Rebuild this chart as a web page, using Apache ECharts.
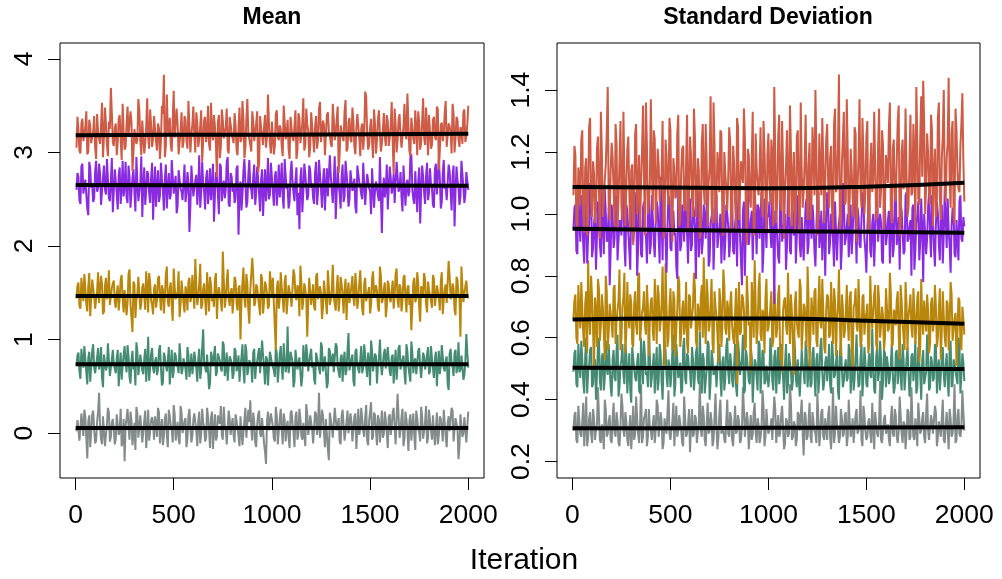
<!DOCTYPE html>
<html><head><meta charset="utf-8">
<script src="https://cdn.jsdelivr.net/npm/echarts@6/dist/echarts.min.js"></script>
<style>html,body{margin:0;padding:0;background:#fff}#c{width:1002px;height:579px}</style>
</head><body><div id="c"></div>
<script>
const iterTicks = [0, 500, 1000, 1500, 2000];
const meanTicks = [0, 1, 2, 3, 4];
const sdTicks = [0.2, 0.4, 0.6, 0.8, 1.0, 1.2, 1.4];
const thin = 10; // each array holds every 10th draw; "B" arrays hold the draws 5 iterations earlier
const panelTitles = ['Mean', 'Standard Deviation'];
const xLabel = 'Iteration';

const meanRed = [
3.38,3.02,3.31,3.12,3.27,2.98,3.35,3.10,3.22,3.05,3.41,3.15,3.29,2.95,3.48,3.08,3.33,3.69,3.11,3.26,
2.97,3.36,3.14,3.52,3.03,3.30,3.18,3.44,2.80,3.25,3.09,3.57,3.13,3.34,2.99,3.28,3.16,3.46,3.06,3.39,
3.12,3.31,2.93,3.50,3.83,3.07,3.24,3.37,3.01,3.66,3.17,3.29,2.96,3.43,3.11,3.35,3.04,3.27,3.19,3.49,
3.00,3.32,3.14,3.45,2.92,3.38,3.20,3.09,3.53,3.13,3.28,2.74,3.40,3.06,3.34,3.17,3.47,2.99,3.30,3.15,
3.42,3.03,3.26,3.11,3.55,2.94,3.36,3.21,3.08,3.44,3.12,3.31,2.79,3.39,3.18,3.27,3.05,3.62,3.10,3.33,
2.98,3.41,3.16,3.29,3.07,3.50,3.14,3.35,2.93,3.26,3.12,3.45,3.02,3.37,3.19,3.58,3.08,3.30,2.95,3.43,
3.15,3.28,3.04,3.47,3.11,3.34,2.97,3.40,3.22,3.09,3.52,3.13,3.36,2.78,3.29,3.17,3.44,3.01,3.32,3.14,
3.48,3.06,3.25,3.39,2.96,3.31,3.18,3.60,3.03,3.27,3.12,3.46,2.99,3.35,3.20,3.10,3.42,3.07,3.33,3.16,
3.54,2.77,3.30,3.13,3.41,3.05,3.28,3.19,3.63,3.02,3.37,3.15,3.45,2.97,3.32,3.11,3.58,3.08,3.26,3.40,
3.04,3.35,3.17,3.49,2.81,3.29,3.12,3.43,3.06,3.31,3.21,3.52,3.00,3.38,3.14,3.27,3.09,3.46,3.18,3.50];
const meanRedB = [
3.05,3.24,2.99,3.36,3.13,3.44,3.01,3.28,3.17,3.39,2.93,3.21,3.09,3.53,3.18,3.30,2.96,3.25,3.42,3.07,
3.31,3.11,3.40,2.92,3.22,3.06,3.49,3.16,3.33,3.00,3.27,3.14,3.45,2.97,3.35,3.10,3.58,3.04,3.29,3.15,
3.37,3.02,3.26,3.12,3.41,2.95,3.62,3.20,3.08,3.34,3.16,3.47,2.98,3.23,3.05,3.39,3.13,3.55,3.00,3.30,
3.18,3.43,3.06,3.28,2.90,3.35,3.11,3.50,3.02,3.24,3.40,3.09,3.32,2.94,3.46,3.15,3.27,3.03,3.38,3.21,
3.10,3.29,2.97,3.48,3.14,3.36,3.05,3.57,3.19,3.01,3.33,3.12,3.44,2.88,3.26,3.08,3.40,3.17,3.31,2.99,
3.34,3.07,3.45,3.13,3.25,2.96,3.51,3.20,3.04,3.38,3.16,3.29,2.93,3.42,3.10,3.32,3.02,3.47,3.23,3.06,
3.28,3.00,3.39,3.14,3.54,3.09,3.30,2.95,3.43,3.18,3.06,3.35,3.21,3.49,2.99,3.27,3.12,3.56,3.04,3.37,
3.11,3.33,2.98,3.41,3.15,3.26,3.03,3.65,3.20,3.08,3.36,2.94,3.30,3.13,3.45,3.01,3.24,3.17,3.40,3.07,
3.29,3.12,3.47,3.00,3.35,3.18,3.05,3.52,3.14,3.31,2.96,3.39,3.09,3.26,3.44,3.03,3.33,3.16,3.48,2.97,
3.22,3.08,3.38,3.13,3.46,3.02,3.32,3.19,3.55,3.05,3.28,2.99,3.41,3.15,3.35,3.06,3.24,3.43,3.11,3.30];
const meanPurple = [
2.78,2.49,2.85,2.56,2.71,2.40,2.90,2.62,2.47,2.80,2.58,2.88,2.44,2.74,2.60,2.93,2.51,2.69,2.36,2.82,
2.55,2.76,2.45,2.91,2.63,2.52,2.86,2.41,2.73,2.57,2.95,2.48,2.67,2.31,2.84,2.59,2.77,2.46,2.89,2.61,
2.42,2.81,2.54,2.72,2.38,2.87,2.64,2.50,2.92,2.56,2.75,2.43,2.83,2.58,2.68,2.47,2.79,2.15,2.86,2.53,
2.70,2.44,2.97,2.57,2.66,2.39,2.81,2.60,2.49,2.88,2.55,2.74,2.34,2.85,2.62,2.51,2.90,2.45,2.78,2.58,
2.46,2.83,2.12,2.69,2.54,2.93,2.41,2.76,2.63,2.50,2.87,2.57,2.71,2.37,2.82,2.59,2.48,2.94,2.55,2.73,
2.43,2.80,2.61,2.52,2.89,2.40,2.75,2.64,2.47,2.91,2.56,2.70,2.33,2.18,2.84,2.58,2.77,2.49,2.86,2.62,
2.51,2.79,2.44,2.92,2.60,2.68,2.38,2.83,2.55,2.74,2.46,2.96,2.57,2.65,2.40,2.87,2.53,2.78,2.42,2.81,
2.59,2.72,2.35,2.88,2.63,2.50,2.90,2.45,2.76,2.58,2.83,2.41,2.69,2.54,2.95,2.14,2.73,2.61,2.39,2.85,
2.56,2.77,2.47,2.91,2.62,2.52,2.86,2.43,2.71,2.58,2.98,2.50,2.80,2.36,2.84,2.60,2.74,2.45,2.89,2.57,
2.66,2.44,2.82,2.55,2.93,2.40,2.78,2.61,2.49,2.87,2.58,2.75,2.21,2.85,2.63,2.52,2.90,2.46,2.79,2.60];
const meanPurpleB = [
2.60,2.74,2.45,2.88,2.57,2.69,2.33,2.83,2.66,2.51,2.91,2.62,2.77,2.42,2.86,2.55,2.72,2.48,2.94,2.59,
2.70,2.39,2.84,2.61,2.53,2.90,2.46,2.75,2.58,2.82,2.37,2.67,2.50,2.96,2.64,2.44,2.80,2.56,2.73,2.28,
2.85,2.63,2.47,2.89,2.59,2.71,2.40,2.78,2.54,2.92,2.66,2.35,2.81,2.61,2.49,2.87,2.57,2.69,2.43,2.84,
2.52,2.76,2.62,2.41,2.90,2.58,2.73,2.45,2.83,2.65,2.26,2.79,2.56,2.88,2.48,2.70,2.60,2.95,2.42,2.74,
2.64,2.51,2.86,2.57,2.38,2.80,2.68,2.47,2.92,2.60,2.74,2.44,2.85,2.55,2.71,2.32,2.82,2.63,2.50,2.89,
2.58,2.75,2.43,2.87,2.66,2.52,2.93,2.61,2.40,2.78,2.69,2.48,2.84,2.57,2.72,2.36,2.88,2.62,2.54,2.81,
2.67,2.45,2.90,2.59,2.76,2.41,2.83,2.64,2.53,2.97,2.60,2.70,2.29,2.85,2.56,2.74,2.47,2.91,2.63,2.50,
2.79,2.57,2.42,2.86,2.68,2.55,2.89,2.44,2.77,2.62,2.34,2.82,2.59,2.71,2.48,2.93,2.61,2.52,2.87,2.40,
2.73,2.64,2.46,2.90,2.58,2.79,2.37,2.84,2.66,2.53,2.95,2.60,2.45,2.81,2.69,2.24,2.86,2.57,2.75,2.49,
2.83,2.62,2.41,2.88,2.56,2.72,2.47,2.92,2.64,2.51,2.80,2.38,2.86,2.59,2.70,2.44,2.91,2.63,2.55,2.78];
const meanGold = [
1.58,1.36,1.66,1.41,1.55,1.30,1.71,1.45,1.62,1.33,1.52,1.39,1.68,1.27,1.57,1.43,1.74,1.35,1.60,1.40,
1.49,1.31,1.64,1.44,1.53,1.26,1.70,1.38,1.08,1.59,1.42,1.67,1.32,1.56,1.47,1.73,1.29,1.61,1.37,1.54,
1.34,1.65,1.46,1.58,1.28,1.69,1.40,1.55,1.35,1.76,1.43,1.51,1.24,1.63,1.39,1.57,1.31,1.66,1.45,1.52,
1.86,1.37,1.60,1.33,1.54,1.42,1.72,1.30,1.58,1.46,1.64,1.22,1.56,1.41,1.94,1.34,1.62,1.44,1.50,1.28,
1.67,1.39,1.55,1.00,1.61,1.43,1.70,1.32,1.53,1.87,1.36,1.59,1.45,1.26,1.65,1.40,1.57,1.33,1.73,1.48,
1.38,0.89,1.63,1.44,1.56,1.29,1.69,1.41,1.52,1.35,1.75,1.46,1.58,1.25,1.62,1.42,1.54,1.03,1.66,1.37,
1.59,1.31,1.71,1.45,1.50,1.34,1.64,1.27,1.57,1.43,1.80,1.38,1.55,1.30,1.67,1.47,1.53,1.21,1.61,1.40,
1.68,1.36,1.56,1.44,1.74,1.32,1.60,1.41,1.51,1.28,1.65,1.46,1.58,1.35,1.78,1.39,1.54,1.24,1.63,1.43,
1.52,1.33,1.70,1.42,1.59,1.30,1.66,1.45,1.55,1.37,1.10,1.61,1.40,1.72,1.34,1.57,1.47,1.64,1.29,1.53,
1.41,1.69,1.36,1.58,1.45,1.62,1.27,1.54,1.39,1.84,1.43,1.60,1.32,1.67,1.48,1.03,1.56,1.38,1.63,1.44];
const meanGoldB = [
1.44,1.61,1.33,1.52,1.70,1.38,1.57,1.25,1.64,1.46,1.35,1.72,1.41,1.59,1.30,1.66,1.48,1.37,1.55,1.63,
1.34,1.58,1.45,1.69,1.29,1.54,1.40,1.75,1.36,1.62,1.23,1.50,1.67,1.39,1.60,1.32,1.56,1.71,1.42,1.27,
1.59,1.43,1.68,1.31,1.53,1.47,1.78,1.35,1.61,1.20,1.56,1.44,1.73,1.38,1.65,1.29,1.51,1.62,1.40,1.69,
1.33,1.57,1.45,1.81,1.37,1.60,1.26,1.53,1.67,1.41,1.35,1.71,1.48,1.58,1.30,1.64,1.43,1.75,1.36,1.55,
1.46,1.63,1.31,1.58,1.42,1.77,1.34,1.60,1.17,1.52,1.68,1.39,1.56,1.45,1.70,1.28,1.62,1.49,1.36,1.59,
1.66,1.40,1.54,1.33,1.72,1.44,1.61,1.27,1.58,1.47,1.36,1.69,1.42,1.55,1.79,1.32,1.60,1.45,1.38,1.64,
1.48,1.35,1.67,1.43,1.57,1.22,1.63,1.40,1.74,1.37,1.54,1.46,1.31,1.69,1.44,1.59,1.28,1.65,1.50,1.39,
1.57,1.44,1.71,1.33,1.60,1.48,1.26,1.66,1.41,1.56,1.37,1.73,1.45,1.52,1.30,1.68,1.43,1.61,1.35,1.58,
1.40,1.63,1.47,1.76,1.34,1.55,1.42,1.69,1.29,1.58,1.46,1.35,1.66,1.44,1.60,1.19,1.54,1.71,1.38,1.62,
1.52,1.34,1.65,1.46,1.56,1.31,1.72,1.43,1.59,1.37,1.68,1.47,1.55,1.26,1.63,1.45,1.78,1.40,1.57,1.49];
const meanGreen = [
0.83,0.66,0.90,0.70,0.79,0.52,0.87,0.73,0.95,0.64,0.81,0.68,0.92,0.49,0.85,0.71,0.78,0.63,0.89,0.69,
0.80,0.50,0.86,0.72,0.93,0.65,0.82,0.53,0.88,0.74,0.97,0.62,0.84,0.67,0.79,0.55,1.03,0.70,0.91,0.64,
0.81,0.68,0.94,0.51,0.86,0.73,0.77,0.52,0.89,0.66,0.83,0.71,0.96,0.63,0.80,0.69,0.92,0.60,0.85,0.72,
0.78,0.55,0.90,0.67,1.11,0.70,0.84,0.47,0.87,0.74,0.93,0.65,0.81,0.69,0.98,0.61,0.86,0.73,0.79,0.58,
0.91,0.66,0.83,0.71,0.95,0.53,0.88,0.68,0.80,0.54,0.90,0.72,0.85,0.64,0.99,0.69,0.82,0.51,0.87,0.75,
0.67,0.92,0.54,0.84,0.70,0.96,0.65,1.14,0.73,0.86,0.49,0.89,0.68,0.81,0.50,0.94,0.71,0.83,0.64,0.90,
0.76,0.52,0.88,0.69,0.97,0.66,0.82,0.48,0.91,0.72,0.85,0.63,0.93,0.70,0.80,0.55,0.87,0.67,1.07,0.73,
0.84,0.50,0.90,0.68,0.79,0.64,0.95,0.71,0.86,0.51,0.88,0.66,0.82,0.73,1.00,0.62,0.85,0.69,0.92,0.65,
0.81,0.53,0.89,0.72,0.94,0.67,0.83,0.52,0.87,0.70,0.98,0.64,0.80,0.74,0.91,0.59,0.86,0.68,0.84,0.63,
0.93,0.69,0.79,0.50,0.88,0.72,0.96,0.66,0.82,0.46,0.90,0.71,0.85,0.64,0.97,0.68,0.81,0.62,1.06,0.70];
const meanGreenB = [
0.72,0.86,0.58,0.77,0.93,0.65,0.80,0.55,0.88,0.70,0.62,0.91,0.75,0.59,0.84,0.67,0.96,0.61,0.79,0.73,
0.64,0.89,0.71,0.57,0.83,0.76,0.94,0.60,0.78,0.68,0.51,0.87,0.72,0.82,0.63,0.90,0.74,0.56,0.85,0.69,
0.77,0.62,0.88,0.70,0.54,0.81,0.66,0.92,0.73,0.59,0.86,0.75,0.64,0.97,0.68,0.80,0.57,0.84,0.71,0.63,
0.87,0.69,0.79,0.58,0.92,0.74,0.65,0.83,0.53,0.89,0.72,0.61,0.85,0.77,0.66,0.94,0.70,0.56,0.82,0.75,
0.63,0.88,0.73,0.55,0.81,0.68,0.95,0.62,0.78,0.71,0.86,0.58,0.76,0.91,0.65,0.83,0.52,0.79,0.70,0.89,
0.74,0.60,0.85,0.69,0.93,0.57,0.80,0.72,0.64,0.87,0.76,0.55,0.90,0.67,0.82,0.61,0.78,0.95,0.66,0.84,
0.70,0.58,0.86,0.75,0.63,0.92,0.68,0.81,0.54,0.88,0.73,0.65,0.96,0.71,0.59,0.84,0.77,0.62,0.89,0.67,
0.79,0.56,0.87,0.72,0.64,0.93,0.70,0.83,0.60,0.76,0.99,0.66,0.85,0.53,0.80,0.74,0.62,0.90,0.69,0.78,
0.61,0.84,0.73,0.57,0.91,0.68,0.79,0.64,0.95,0.71,0.55,0.86,0.76,0.63,0.88,0.70,0.58,0.82,0.74,0.92,
0.66,0.80,0.59,0.87,0.72,0.63,0.94,0.69,0.78,0.52,0.85,0.75,0.61,0.89,0.71,0.65,0.83,0.57,0.77,0.86];
const meanGray = [
0.14,-0.08,0.21,-0.03,0.17,-0.27,0.19,0.01,0.24,-0.11,0.12,0.43,-0.06,0.18,-0.14,0.10,0.22,-0.04,0.15,-0.12,
0.20,-0.02,0.26,-0.09,-0.30,0.16,0.06,0.23,-0.13,0.11,0.28,-0.05,0.19,-0.10,0.13,-0.16,0.25,0.02,0.17,-0.07,
0.09,0.27,-0.11,0.15,-0.03,0.21,-0.15,0.18,0.04,0.30,-0.08,0.12,-0.12,0.22,0.00,0.16,-0.06,0.26,-0.10,0.14,
0.19,-0.14,0.23,-0.01,0.11,-0.09,0.27,0.03,0.17,-0.17,0.20,-0.04,0.13,0.29,-0.07,0.08,-0.12,0.24,-0.02,0.16,
-0.10,0.22,0.05,0.18,-0.13,0.14,-0.05,0.25,0.35,-0.08,0.12,-0.15,0.20,-0.01,0.16,-0.11,-0.33,0.23,0.02,0.19,
-0.06,0.28,-0.12,0.15,0.04,0.21,-0.09,0.13,-0.16,0.24,0.01,0.18,-0.07,0.26,-0.03,0.11,-0.14,0.20,0.06,0.17,
-0.11,0.23,-0.02,0.43,0.09,0.19,-0.15,0.14,-0.29,0.22,-0.05,0.27,0.03,0.16,-0.12,0.25,-0.08,0.12,0.00,0.21,
-0.09,0.18,-0.17,0.26,0.05,0.15,-0.04,0.30,-0.13,0.11,-0.07,0.22,0.02,0.19,-0.10,0.24,-0.01,0.14,-0.16,0.20,
0.07,0.27,-0.12,0.42,-0.05,0.17,-0.14,0.23,0.04,0.13,-0.08,0.21,-0.18,0.16,0.01,0.28,-0.06,0.12,-0.11,0.25,
0.03,0.19,-0.13,0.22,-0.02,0.15,-0.09,0.26,-0.15,0.18,0.00,0.24,-0.07,0.14,-0.28,0.20,-0.04,0.17,-0.10,0.23];
const meanGrayB = [
0.02,0.16,-0.10,0.09,0.25,-0.05,0.12,-0.15,0.20,0.04,-0.08,0.23,0.07,-0.12,0.18,-0.02,0.27,-0.09,0.11,0.05,
-0.06,0.19,0.03,-0.14,0.15,0.08,0.26,-0.07,0.13,-0.01,-0.18,0.21,0.06,0.17,-0.11,0.24,0.01,-0.08,0.14,0.10,
0.18,-0.04,0.22,0.05,-0.13,0.16,-0.02,0.25,0.08,-0.10,0.20,0.03,-0.06,0.29,0.00,0.13,-0.15,0.19,0.06,-0.03,
0.21,0.02,0.12,-0.11,0.26,0.07,-0.05,0.17,-0.16,0.23,0.04,-0.08,0.19,0.10,-0.02,0.28,0.05,-0.12,0.15,0.08,
-0.03,0.20,0.06,-0.14,0.16,0.01,0.27,-0.07,0.12,0.04,0.22,-0.10,0.09,0.24,-0.04,0.17,-0.20,0.13,0.03,0.21,
0.07,-0.09,0.18,0.02,0.26,-0.12,0.14,0.05,-0.04,0.21,0.10,-0.15,0.23,0.00,0.16,-0.07,0.12,0.31,-0.02,0.19,
0.04,-0.10,0.20,0.08,-0.05,0.25,0.01,0.15,-0.17,0.22,0.06,-0.03,0.28,0.03,-0.09,0.18,0.09,-0.06,0.24,0.00,
0.12,-0.11,0.21,0.05,-0.02,0.27,0.02,0.16,-0.08,0.13,0.33,-0.04,0.19,-0.13,0.14,0.07,-0.05,0.23,0.01,0.17,
-0.02,0.22,0.06,-0.10,0.18,0.03,0.26,-0.06,0.15,-0.19,0.20,0.08,-0.03,0.24,0.04,-0.09,0.17,0.02,0.29,-0.05,
0.13,-0.07,0.21,0.04,-0.12,0.18,0.06,0.25,-0.04,0.11,0.02,0.27,-0.09,0.16,0.05,-0.14,0.22,0.00,0.15,0.08];

const sdRed = [
1.22,0.97,1.15,1.03,1.27,0.94,1.18,1.06,1.31,0.99,1.13,1.01,1.25,0.92,1.20,1.05,1.16,1.41,0.98,1.23,
1.08,1.29,0.95,1.17,1.02,1.33,0.96,1.21,1.07,1.14,0.90,1.26,1.00,1.19,1.10,1.35,0.93,1.22,1.04,1.37,
1.01,1.24,0.97,1.16,1.09,1.30,0.95,1.19,1.03,1.27,0.91,1.14,1.06,1.32,0.98,1.21,1.02,1.17,0.94,1.25,
1.05,1.34,0.99,1.18,0.92,1.23,1.08,1.29,0.96,1.15,1.03,1.36,0.97,1.20,1.07,1.26,0.93,1.13,1.01,1.28,
0.95,1.22,1.04,1.31,0.98,1.17,1.10,1.24,0.90,1.19,1.02,1.33,0.96,1.15,1.06,1.28,0.99,1.21,0.94,1.26,
1.03,1.18,1.41,0.97,1.25,1.05,1.30,0.92,1.16,1.08,1.35,0.96,1.20,1.01,1.27,0.94,1.14,1.07,1.32,0.98,
1.23,1.04,1.19,1.40,0.93,1.26,1.06,1.17,0.97,1.29,1.02,1.22,0.95,1.34,1.09,1.45,0.99,1.24,1.03,1.37,
0.96,1.21,1.05,1.28,0.91,1.18,1.08,1.31,1.00,1.25,0.94,1.16,1.07,1.33,0.98,1.22,1.02,1.27,0.95,1.19,
1.10,1.36,0.97,1.24,1.04,1.30,0.93,1.20,1.08,1.34,0.99,1.17,1.06,1.29,0.95,1.23,1.03,1.38,1.43,1.00,
1.26,1.07,1.32,0.96,1.21,1.05,1.36,0.98,1.25,1.09,1.18,1.44,1.02,1.30,0.97,1.27,1.08,1.22,1.39,1.04];
const sdRedB = [
1.06,1.19,0.95,1.12,1.24,1.00,1.15,0.93,1.28,1.04,1.17,0.97,1.21,1.08,1.33,0.99,1.11,1.26,1.02,1.14,
1.18,0.96,1.23,1.05,1.30,0.98,1.13,1.09,1.25,0.94,1.16,1.03,1.29,1.07,0.95,1.20,1.12,1.36,1.00,1.10,
1.15,1.27,0.97,1.21,1.04,1.13,0.92,1.24,1.08,1.31,1.00,1.18,1.05,1.26,0.96,1.14,1.22,1.01,1.32,1.07,
1.19,0.99,1.25,1.06,1.14,0.94,1.29,1.03,1.17,1.10,1.38,0.97,1.22,1.04,1.15,1.27,0.98,1.20,1.08,1.12,
1.23,1.02,1.16,0.95,1.28,1.07,1.13,1.34,1.00,1.21,1.05,1.18,0.93,1.26,1.09,1.14,1.03,1.30,1.06,1.19,
1.11,1.24,0.96,1.19,1.04,1.32,1.01,1.15,1.08,1.27,0.99,1.21,1.12,0.94,1.25,1.05,1.36,1.02,1.17,1.09,
1.16,0.98,1.28,1.06,1.20,1.03,1.13,1.31,0.97,1.24,1.10,1.18,1.01,1.29,1.07,1.21,0.95,1.16,1.33,1.04,
1.20,1.05,1.14,0.99,1.26,1.09,1.37,1.02,1.19,1.07,1.30,0.96,1.23,1.11,1.16,1.00,1.34,1.08,1.22,1.03,
1.15,1.28,1.01,1.21,1.06,1.17,1.35,0.98,1.24,1.10,1.13,1.02,1.32,1.07,1.19,1.41,1.05,1.25,1.12,1.30,
1.09,1.20,1.03,1.27,1.13,0.99,1.31,1.06,1.18,1.40,1.04,1.23,1.11,1.26,1.01,1.34,1.14,1.07,1.29,1.17];
const sdPurple = [
1.02,0.88,1.07,0.91,0.99,0.84,1.05,0.93,1.10,0.86,0.97,0.82,1.04,0.90,1.08,0.87,1.00,0.92,0.77,1.03,
0.89,1.06,0.85,0.98,0.93,1.11,0.83,1.01,0.88,1.05,0.91,0.96,0.80,1.09,0.87,1.02,0.94,0.84,1.07,0.90,
0.99,0.86,1.04,0.92,1.12,0.85,0.97,0.81,1.06,0.89,1.00,0.93,0.83,1.08,0.88,1.03,0.91,0.98,0.84,1.05,
0.90,1.01,0.79,1.07,0.94,0.87,1.03,0.92,1.10,0.85,0.99,0.82,1.05,0.89,0.96,0.84,1.08,0.91,1.00,0.86,
1.04,0.88,0.97,0.83,1.09,0.93,1.01,0.80,1.06,0.90,0.98,0.85,1.11,0.87,1.02,0.92,0.81,1.05,0.89,0.99,
0.94,1.07,0.71,1.00,0.86,1.04,0.91,0.97,0.82,1.08,0.88,1.02,0.93,0.84,1.06,0.90,0.99,0.85,1.03,0.87,
1.09,0.92,0.98,0.83,1.05,0.89,1.01,0.94,0.80,1.07,0.87,1.00,0.91,1.04,0.85,0.97,0.82,1.10,0.90,0.96,
0.86,1.03,0.93,1.08,0.84,0.99,0.89,1.06,0.92,0.81,1.02,0.88,0.97,0.83,1.05,0.91,1.00,0.85,1.07,0.90,
0.98,0.84,1.04,0.89,1.09,0.93,0.82,1.01,0.87,1.06,0.91,0.96,0.80,1.03,0.88,0.99,0.85,1.05,0.78,1.00,
0.92,1.07,0.86,0.97,0.83,1.04,0.90,1.01,0.84,1.08,0.89,0.95,0.81,1.02,0.87,0.98,0.85,1.06,0.91,0.96];
const sdPurpleB = [
0.95,1.03,0.87,0.98,1.06,0.90,1.01,0.84,0.96,1.09,0.89,1.00,0.93,1.04,0.86,0.97,1.08,0.91,1.02,0.88,
0.99,0.92,1.05,0.85,0.97,1.10,0.90,1.03,0.94,0.82,1.01,0.95,1.07,0.89,0.98,0.86,1.04,0.93,1.00,0.87,
1.06,0.91,0.97,1.02,0.84,0.99,1.08,0.92,0.96,1.04,0.88,1.01,0.94,0.79,1.05,0.90,0.97,1.09,0.93,0.98,
0.88,1.03,0.95,1.00,0.86,1.07,0.91,0.99,1.04,0.83,0.97,1.02,0.92,1.06,0.89,1.00,0.94,0.85,1.03,0.96,
0.91,1.05,0.87,0.99,1.02,0.93,0.77,1.04,0.96,1.08,0.90,1.01,0.85,0.98,1.03,0.92,1.07,0.88,0.97,1.00,
1.04,0.89,0.96,1.01,0.92,0.84,1.06,0.95,1.00,0.90,1.03,0.87,0.98,1.09,0.93,1.02,0.86,0.99,0.94,1.05,
0.90,0.99,1.03,0.88,0.96,1.07,0.93,0.85,1.01,0.97,1.05,0.91,0.98,0.83,1.04,0.94,1.00,0.89,1.06,0.92,
1.00,0.94,0.87,1.05,0.96,1.02,0.90,0.98,1.07,0.88,0.95,1.03,0.86,1.00,0.93,1.08,0.91,0.97,0.84,1.02,
0.93,1.01,0.96,0.86,1.05,0.90,0.99,1.03,0.94,0.88,1.07,0.92,0.98,1.02,0.82,0.97,1.04,0.91,0.95,1.00,
0.87,1.02,0.94,1.06,0.89,0.97,1.00,0.85,1.03,0.93,0.99,1.05,0.90,0.96,1.01,0.86,0.98,1.04,0.92,0.99];
const sdGold = [
0.72,0.60,0.77,0.63,0.70,0.57,0.75,0.85,0.61,0.73,0.50,0.68,0.79,0.59,0.74,0.62,0.80,0.56,0.71,0.64,
0.76,0.58,0.69,0.82,0.60,0.73,0.55,0.78,0.63,0.71,0.57,0.75,0.61,0.81,0.59,0.70,0.64,0.77,0.54,0.72,
0.62,0.79,0.58,0.74,0.65,0.83,0.50,0.70,0.60,0.76,0.56,0.72,0.63,0.80,0.57,0.69,0.61,0.78,0.55,0.73,
0.66,0.81,0.59,0.71,0.62,0.77,0.86,0.58,0.74,0.64,0.79,0.55,0.70,0.61,0.76,0.57,0.82,0.63,0.72,0.59,
0.75,0.60,0.68,0.45,0.78,0.62,0.73,0.56,0.80,0.64,0.49,0.71,0.85,0.58,0.76,0.61,0.69,0.55,0.79,0.63,
0.70,0.57,0.77,0.60,0.74,0.53,0.49,0.72,0.64,0.81,0.58,0.68,0.48,0.75,0.62,0.79,0.56,0.71,0.65,0.83,
0.50,0.73,0.61,0.76,0.57,0.80,0.63,0.69,0.55,0.74,0.60,0.78,0.58,0.72,0.66,0.82,0.54,0.70,0.62,0.77,
0.59,0.75,0.50,0.71,0.64,0.79,0.57,0.73,0.61,0.68,0.55,0.80,0.63,0.74,0.58,0.77,0.60,0.70,0.56,0.76,
0.62,0.81,0.57,0.69,0.64,0.75,0.53,0.72,0.60,0.78,0.56,0.70,0.63,0.76,0.58,0.73,0.52,0.79,0.61,0.67,
0.74,0.55,0.71,0.62,0.77,0.57,0.69,0.53,0.75,0.60,0.72,0.56,0.78,0.59,0.66,0.51,0.73,0.58,0.70,0.61];
const sdGoldB = [
0.66,0.74,0.58,0.69,0.78,0.61,0.71,0.55,0.67,0.80,0.63,0.73,0.57,0.76,0.64,0.70,0.53,0.75,0.62,0.68,
0.60,0.77,0.65,0.72,0.56,0.70,0.81,0.62,0.67,0.74,0.58,0.71,0.64,0.79,0.59,0.68,0.75,0.61,0.70,0.66,
0.73,0.59,0.68,0.77,0.62,0.71,0.64,0.84,0.57,0.70,0.66,0.75,0.54,0.69,0.78,0.61,0.72,0.65,0.58,0.74,
0.63,0.70,0.76,0.57,0.68,0.73,0.60,0.66,0.79,0.62,0.71,0.58,0.75,0.67,0.52,0.72,0.64,0.77,0.61,0.69,
0.71,0.64,0.58,0.76,0.67,0.61,0.74,0.69,0.57,0.72,0.65,0.78,0.60,0.70,0.63,0.81,0.59,0.68,0.73,0.62,
0.66,0.75,0.59,0.70,0.63,0.77,0.56,0.69,0.73,0.61,0.67,0.74,0.58,0.71,0.65,0.60,0.76,0.63,0.70,0.57,
0.72,0.62,0.68,0.75,0.59,0.71,0.65,0.79,0.57,0.69,0.73,0.61,0.67,0.76,0.54,0.70,0.64,0.74,0.60,0.68,
0.65,0.73,0.57,0.70,0.76,0.62,0.68,0.59,0.74,0.66,0.71,0.58,0.69,0.63,0.77,0.56,0.72,0.64,0.67,0.60,
0.70,0.63,0.74,0.58,0.68,0.72,0.61,0.77,0.65,0.56,0.71,0.67,0.74,0.60,0.69,0.64,0.75,0.57,0.66,0.72,
0.62,0.69,0.58,0.73,0.65,0.70,0.60,0.76,0.63,0.67,0.57,0.71,0.64,0.74,0.59,0.68,0.62,0.72,0.56,0.66];
const sdGreen = [
0.55,0.45,0.58,0.47,0.53,0.42,0.60,0.49,0.56,0.44,0.52,0.40,0.57,0.46,0.54,0.43,0.59,0.48,0.51,0.41,
0.56,0.46,0.61,0.44,0.53,0.48,0.58,0.42,0.55,0.39,0.57,0.47,0.52,0.43,0.60,0.45,0.54,0.49,0.63,0.44,
0.51,0.42,0.57,0.46,0.55,0.40,0.59,0.48,0.53,0.44,0.56,0.41,0.58,0.47,0.52,0.43,0.60,0.45,0.54,0.49,
0.57,0.43,0.55,0.47,0.62,0.42,0.53,0.46,0.59,0.40,0.56,0.48,0.51,0.44,0.58,0.41,0.54,0.47,0.60,0.45,
0.52,0.44,0.58,0.41,0.55,0.48,0.61,0.43,0.54,0.46,0.57,0.39,0.53,0.47,0.59,0.42,0.56,0.45,0.51,0.44,
0.60,0.46,0.54,0.42,0.57,0.48,0.52,0.40,0.58,0.45,0.55,0.43,0.61,0.47,0.53,0.41,0.56,0.49,0.59,0.44,
0.53,0.45,0.57,0.41,0.55,0.47,0.60,0.43,0.52,0.46,0.58,0.42,0.54,0.48,0.56,0.40,0.59,0.44,0.51,0.46,
0.58,0.42,0.55,0.47,0.61,0.44,0.53,0.41,0.57,0.45,0.52,0.48,0.63,0.43,0.54,0.46,0.59,0.40,0.56,0.44,
0.51,0.47,0.58,0.42,0.55,0.45,0.60,0.43,0.53,0.48,0.57,0.41,0.54,0.46,0.59,0.44,0.52,0.40,0.56,0.47,
0.61,0.43,0.54,0.46,0.58,0.42,0.53,0.48,0.57,0.44,0.55,0.41,0.59,0.45,0.52,0.47,0.60,0.42,0.55,0.46];
const sdGreenB = [
0.49,0.56,0.44,0.52,0.59,0.46,0.54,0.42,0.51,0.57,0.45,0.53,0.48,0.60,0.43,0.55,0.47,0.50,0.58,0.44,
0.53,0.47,0.56,0.41,0.51,0.58,0.45,0.54,0.49,0.43,0.57,0.50,0.46,0.55,0.42,0.52,0.59,0.48,0.44,0.54,
0.47,0.55,0.50,0.43,0.58,0.46,0.52,0.56,0.44,0.51,0.48,0.61,0.45,0.53,0.49,0.42,0.57,0.47,0.55,0.50,
0.44,0.53,0.48,0.57,0.45,0.51,0.55,0.42,0.50,0.58,0.46,0.53,0.49,0.44,0.56,0.47,0.52,0.43,0.57,0.49,
0.55,0.46,0.51,0.44,0.59,0.48,0.53,0.42,0.56,0.50,0.45,0.54,0.47,0.52,0.43,0.58,0.49,0.55,0.46,0.51,
0.48,0.54,0.43,0.56,0.50,0.45,0.58,0.47,0.52,0.42,0.55,0.49,0.46,0.57,0.44,0.53,0.48,0.51,0.45,0.56,
0.50,0.44,0.55,0.48,0.53,0.42,0.57,0.49,0.46,0.54,0.51,0.45,0.59,0.47,0.52,0.43,0.55,0.50,0.46,0.53,
0.47,0.56,0.49,0.43,0.54,0.50,0.45,0.58,0.48,0.52,0.44,0.55,0.47,0.51,0.42,0.57,0.49,0.53,0.46,0.55,
0.54,0.45,0.52,0.48,0.44,0.56,0.50,0.47,0.58,0.43,0.53,0.49,0.46,0.55,0.51,0.42,0.57,0.48,0.53,0.45,
0.49,0.55,0.44,0.52,0.47,0.57,0.50,0.43,0.54,0.48,0.51,0.46,0.56,0.44,0.53,0.49,0.45,0.58,0.48,0.52];
const sdGray = [
0.35,0.27,0.38,0.29,0.33,0.25,0.41,0.28,0.36,0.26,0.34,0.30,0.44,0.27,0.32,0.24,0.37,0.29,0.35,0.26,
0.39,0.28,0.33,0.25,0.42,0.30,0.36,0.27,0.31,0.24,0.38,0.29,0.34,0.26,0.45,0.28,0.35,0.25,0.37,0.30,
0.32,0.26,0.40,0.28,0.36,0.24,0.34,0.29,0.43,0.27,0.33,0.25,0.38,0.30,0.35,0.26,0.41,0.28,0.32,0.23,
0.37,0.29,0.34,0.26,0.46,0.28,0.35,0.25,0.39,0.30,0.33,0.27,0.42,0.24,0.36,0.29,0.31,0.26,0.40,0.28,
0.34,0.25,0.38,0.30,0.33,0.27,0.44,0.28,0.36,0.24,0.35,0.29,0.39,0.26,0.32,0.28,0.43,0.25,0.37,0.29,
0.31,0.27,0.41,0.26,0.35,0.29,0.38,0.24,0.34,0.28,0.45,0.27,0.33,0.25,0.36,0.30,0.40,0.22,0.35,0.28,
0.39,0.26,0.33,0.29,0.42,0.25,0.36,0.28,0.34,0.27,0.38,0.24,0.44,0.29,0.32,0.26,0.37,0.28,0.35,0.25,
0.40,0.28,0.34,0.26,0.37,0.30,0.43,0.25,0.35,0.27,0.33,0.29,0.39,0.24,0.36,0.28,0.46,0.26,0.34,0.29,
0.32,0.25,0.38,0.28,0.35,0.26,0.41,0.29,0.33,0.24,0.37,0.27,0.44,0.28,0.34,0.25,0.39,0.30,0.36,0.26,
0.42,0.27,0.35,0.29,0.38,0.25,0.33,0.28,0.40,0.26,0.36,0.24,0.34,0.29,0.45,0.27,0.37,0.28,0.43,0.30];
const sdGrayB = [
0.30,0.36,0.26,0.33,0.28,0.39,0.31,0.25,0.34,0.29,0.37,0.27,0.32,0.35,0.26,0.30,0.40,0.28,0.33,0.27,
0.34,0.29,0.36,0.26,0.31,0.38,0.28,0.33,0.25,0.35,0.30,0.27,0.41,0.29,0.32,0.26,0.34,0.37,0.28,0.31,
0.27,0.35,0.30,0.38,0.28,0.33,0.26,0.31,0.36,0.29,0.27,0.39,0.32,0.28,0.35,0.30,0.25,0.34,0.29,0.37,
0.31,0.28,0.35,0.26,0.33,0.30,0.38,0.27,0.32,0.29,0.36,0.25,0.34,0.31,0.28,0.40,0.30,0.27,0.33,0.29,
0.36,0.27,0.32,0.29,0.35,0.26,0.31,0.37,0.28,0.33,0.30,0.27,0.36,0.29,0.34,0.26,0.31,0.38,0.28,0.32,
0.29,0.34,0.27,0.37,0.30,0.28,0.35,0.31,0.26,0.33,0.29,0.39,0.28,0.32,0.27,0.35,0.30,0.29,0.36,0.27,
0.33,0.28,0.36,0.30,0.26,0.34,0.29,0.37,0.27,0.31,0.35,0.28,0.32,0.26,0.38,0.30,0.28,0.34,0.29,0.36,
0.28,0.33,0.30,0.26,0.35,0.29,0.32,0.27,0.38,0.30,0.28,0.34,0.26,0.31,0.36,0.29,0.33,0.27,0.30,0.35,
0.31,0.27,0.34,0.29,0.37,0.28,0.30,0.35,0.26,0.32,0.29,0.36,0.28,0.33,0.27,0.31,0.39,0.29,0.34,0.28,
0.35,0.30,0.27,0.33,0.29,0.36,0.28,0.31,0.34,0.27,0.32,0.30,0.37,0.28,0.33,0.26,0.35,0.29,0.31,0.36];

// smoothed running lines (lowess-like), read at these iterations
const smoothIter = [1, 500, 1000, 1500, 2000];
const meanRedSmooth = [3.185, 3.19, 3.19, 3.195, 3.20];
const meanPurpleSmooth = [2.652, 2.65, 2.648, 2.646, 2.645];
const meanGoldSmooth = [1.465, 1.465, 1.465, 1.465, 1.466];
const meanGreenSmooth = [0.735, 0.735, 0.735, 0.735, 0.735];
const meanGraySmooth = [0.055, 0.055, 0.055, 0.055, 0.055];
const sdRedSmooth = [1.087, 1.085, 1.083, 1.088, 1.101];
const sdPurpleSmooth = [0.952, 0.948, 0.945, 0.942, 0.939];
const sdGoldSmooth = [0.659, 0.662, 0.662, 0.655, 0.645];
const sdGreenSmooth = [0.503, 0.502, 0.501, 0.500, 0.499];
const sdGraySmooth = [0.308, 0.308, 0.309, 0.310, 0.311];

const COL = {red:'#CD5B45', purple:'#8A2BE2', gold:'#B8860B', green:'#458B74', gray:'#838B8B'};
const FONT = "'Liberation Sans', Arial, Helvetica, sans-serif";

function tracePts(a, b){
  const out = [];
  for (let i = 0; i < a.length; i++) {
    out.push([(i + 1) * thin - thin / 2, b[i]]);
    out.push([(i + 1) * thin, a[i]]);
  }
  return out;
}
function smoothPts(vals){ return vals.map((v,i)=>[smoothIter[i], v]); }
function trace(a, b, color, idx){
  return {type:'line', xAxisIndex:idx, yAxisIndex:idx, data:tracePts(a, b), symbol:'none', showSymbol:false,
    lineStyle:{color:color, width:2, join:'bevel'}, itemStyle:{color:color}, silent:true, animation:false, z:2};
}
function smoothLine(vals, idx){
  return {type:'line', xAxisIndex:idx, yAxisIndex:idx, data:smoothPts(vals), smooth:true, symbol:'none', showSymbol:false,
    lineStyle:{color:'#000', width:4}, silent:true, animation:false, z:3};
}

const grids = [
  {left:60, top:43, width:424, height:435, show:true, borderColor:'#000', borderWidth:1, backgroundColor:'transparent'},
  {left:557, top:43, width:423, height:435, show:true, borderColor:'#000', borderWidth:1, backgroundColor:'transparent'}
];
function xAx(i){
  return {gridIndex:i, type:'value', min:-78.96, max:2079.96,
    axisLine:{show:false, onZero:false}, splitLine:{show:false},
    axisTick:{show:true, length:12, customValues:iterTicks, lineStyle:{color:'#000', width:1}},
    axisLabel:{show:true, customValues:iterTicks, fontSize:26.5, color:'#000', fontFamily:FONT, margin:24,
      formatter:v=>String(v)}};
}
function yAx(i, mn, mx, ticks, fmt){
  return {gridIndex:i, type:'value', min:mn, max:mx,
    axisLine:{show:false, onZero:false}, splitLine:{show:false},
    axisTick:{show:true, length:12, customValues:ticks, lineStyle:{color:'#000', width:1}},
    axisLabel:{show:true, customValues:ticks, fontSize:26.5, color:'#000', fontFamily:FONT, margin:22, rotate:90,
      formatter:fmt}};
}

const chart = echarts.init(document.getElementById('c'), null, {renderer:'canvas'});
chart.setOption({
  animation:false,
  backgroundColor:'#fff',
  grid:grids,
  xAxis:[xAx(0), xAx(1)],
  yAxis:[yAx(0, -0.48, 4.17, meanTicks, v=>String(Math.round(v))), yAx(1, 0.147, 1.552, sdTicks, v=>v.toFixed(1))],
  series:[
    trace(meanGray, meanGrayB, COL.gray, 0), trace(meanGreen, meanGreenB, COL.green, 0), trace(meanGold, meanGoldB, COL.gold, 0),
    trace(meanPurple, meanPurpleB, COL.purple, 0), trace(meanRed, meanRedB, COL.red, 0),
    smoothLine(meanGraySmooth, 0), smoothLine(meanGreenSmooth, 0), smoothLine(meanGoldSmooth, 0),
    smoothLine(meanPurpleSmooth, 0), smoothLine(meanRedSmooth, 0),
    trace(sdGray, sdGrayB, COL.gray, 1), trace(sdGreen, sdGreenB, COL.green, 1), trace(sdGold, sdGoldB, COL.gold, 1),
    trace(sdPurple, sdPurpleB, COL.purple, 1), trace(sdRed, sdRedB, COL.red, 1),
    smoothLine(sdGraySmooth, 1), smoothLine(sdGreenSmooth, 1), smoothLine(sdGoldSmooth, 1),
    smoothLine(sdPurpleSmooth, 1), smoothLine(sdRedSmooth, 1)
  ],
  graphic:[
    {type:'text', x:272, y:18, style:{text:panelTitles[0], font:"bold 23px " + FONT, fill:'#000', align:'center', verticalAlign:'middle', textAlign:'center', textVerticalAlign:'middle'}},
    {type:'text', x:768, y:18, style:{text:panelTitles[1], font:"bold 23px " + FONT, fill:'#000', align:'center', verticalAlign:'middle', textAlign:'center', textVerticalAlign:'middle'}},
    {type:'text', x:524, y:561, style:{text:xLabel, font:"30px " + FONT, fill:'#000', align:'center', verticalAlign:'middle', textAlign:'center', textVerticalAlign:'middle'}}
  ]
});
</script></body></html>
